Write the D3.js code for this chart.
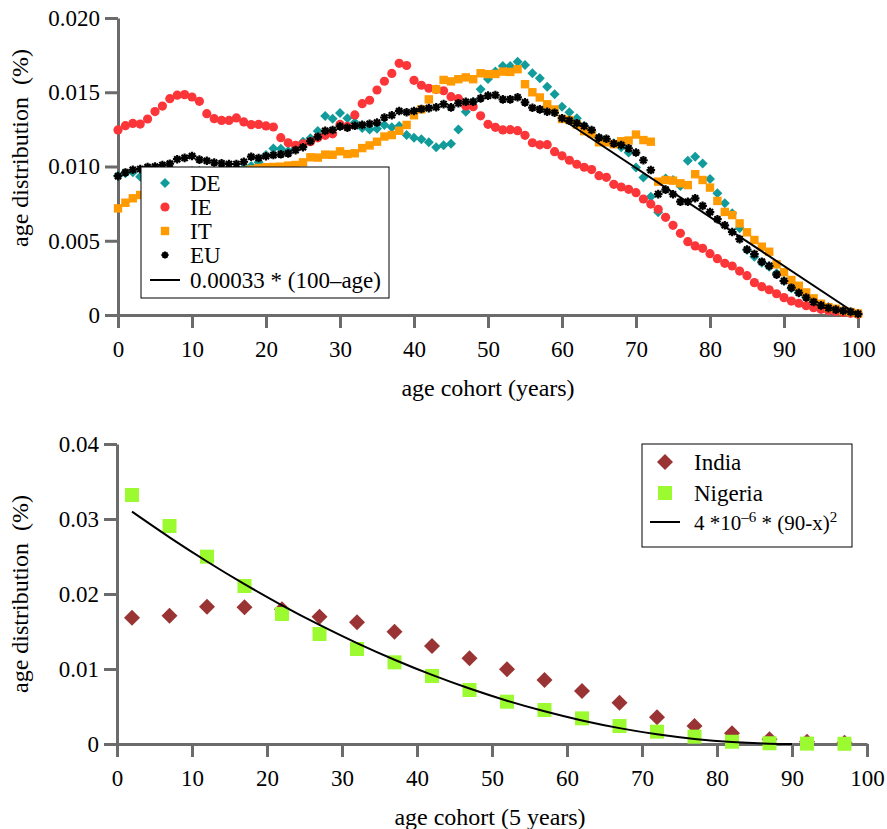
<!DOCTYPE html>
<html>
<head>
<meta charset="utf-8">
<script src="https://cdn.jsdelivr.net/npm/d3@7"></script>
<style>
body { margin: 0; background: #fff; }
svg text { font-family: "Liberation Serif", "Times New Roman", serif; fill: #000; }
</style>
</head>
<body>
<div id="chart"></div>
<script>
// ---- top panel data: age distribution by single year of age ----
var ages = d3.range(0, 101);

var deVals = [0.00938, 0.00954, 0.00962, 0.00931, 0.00930, 0.00925, 0.00930, 0.00940, 0.00950, 0.00960,
  0.00970, 0.00970, 0.00960, 0.00950, 0.00950, 0.00960, 0.00980, 0.00990, 0.01003, 0.01028,
  0.01077, 0.01122, 0.01120, 0.01105, 0.01122, 0.01167, 0.01190, 0.01239, 0.01340, 0.01322,
  0.01360, 0.01325, 0.01297, 0.01259, 0.01250, 0.01255, 0.01280, 0.01264, 0.01273, 0.01212,
  0.01194, 0.01183, 0.01163, 0.01129, 0.01143, 0.01154, 0.01250, 0.01369, 0.01436, 0.01520,
  0.01589, 0.01640, 0.01677, 0.01677, 0.01706, 0.01684, 0.01628, 0.01594, 0.01537, 0.01486,
  0.01403, 0.01365, 0.01325, 0.01273, 0.01234, 0.01194, 0.01178, 0.01156, 0.01130, 0.01095,
  0.00993, 0.00926, 0.00797, 0.00692, 0.00920, 0.00909, 0.00869, 0.01039, 0.01066, 0.01021,
  0.00916, 0.00820, 0.00752, 0.00685, 0.00584, 0.00438, 0.00393, 0.00352, 0.00325, 0.00281,
  0.00229, 0.00180, 0.00150, 0.00120, 0.00092, 0.00070, 0.00054, 0.00037, 0.00026, 0.00018,
  0.00005];

var ieVals = [0.01246, 0.01275, 0.01290, 0.01286, 0.01320, 0.01370, 0.01407, 0.01457, 0.01480, 0.01484,
  0.01468, 0.01439, 0.01356, 0.01322, 0.01310, 0.01310, 0.01327, 0.01300, 0.01282, 0.01283,
  0.01273, 0.01266, 0.01194, 0.01160, 0.01142, 0.01152, 0.01167, 0.01193, 0.01210, 0.01220,
  0.01283, 0.01270, 0.01347, 0.01423, 0.01446, 0.01515, 0.01574, 0.01627, 0.01695, 0.01680,
  0.01580, 0.01547, 0.01527, 0.01520, 0.01510, 0.01470, 0.01457, 0.01407, 0.01403, 0.01341,
  0.01284, 0.01264, 0.01246, 0.01248, 0.01241, 0.01210, 0.01160, 0.01146, 0.01147, 0.01100,
  0.01072, 0.01042, 0.01015, 0.00995, 0.00979, 0.00938, 0.00927, 0.00880, 0.00862, 0.00846,
  0.00824, 0.00781, 0.00747, 0.00712, 0.00658, 0.00604, 0.00550, 0.00494, 0.00465, 0.00449,
  0.00413, 0.00379, 0.00348, 0.00330, 0.00296, 0.00265, 0.00218, 0.00191, 0.00170, 0.00143,
  0.00117, 0.00094, 0.00079, 0.00063, 0.00049, 0.00038, 0.00030, 0.00024, 0.00017, 0.00011,
  0.00005];

var itVals = [0.00718, 0.00756, 0.00786, 0.00808, 0.00830, 0.00845, 0.00860, 0.00875, 0.00890, 0.00905,
  0.00920, 0.00930, 0.00935, 0.00940, 0.00945, 0.00950, 0.00960, 0.00970, 0.00980, 0.00990,
  0.00995, 0.00997, 0.00999, 0.01006, 0.01010, 0.01028, 0.01062, 0.01060, 0.01080, 0.01079,
  0.01102, 0.01084, 0.01089, 0.01124, 0.01142, 0.01167, 0.01202, 0.01212, 0.01241, 0.01280,
  0.01345, 0.01385, 0.01452, 0.01520, 0.01583, 0.01573, 0.01588, 0.01600, 0.01588, 0.01628,
  0.01622, 0.01623, 0.01639, 0.01637, 0.01655, 0.01554, 0.01500, 0.01465, 0.01419, 0.01384,
  0.01320, 0.01313, 0.01282, 0.01238, 0.01221, 0.01163, 0.01163, 0.01150, 0.01170, 0.01175,
  0.01215, 0.01178, 0.01167, 0.00898, 0.00909, 0.00905, 0.00887, 0.00875, 0.00948, 0.00909,
  0.00858, 0.00768, 0.00694, 0.00673, 0.00617, 0.00557, 0.00505, 0.00460, 0.00426, 0.00341,
  0.00288, 0.00236, 0.00197, 0.00152, 0.00112, 0.00076, 0.00053, 0.00042, 0.00028, 0.00020,
  0.00010];

var euVals = [0.00935, 0.00960, 0.00978, 0.00983, 0.00997, 0.01000, 0.01010, 0.01019, 0.01049, 0.01058,
  0.01071, 0.01046, 0.01039, 0.01027, 0.01021, 0.01017, 0.01017, 0.01032, 0.01066, 0.01057,
  0.01069, 0.01077, 0.01082, 0.01088, 0.01110, 0.01130, 0.01170, 0.01200, 0.01240, 0.01246,
  0.01270, 0.01261, 0.01274, 0.01280, 0.01288, 0.01296, 0.01330, 0.01345, 0.01374, 0.01365,
  0.01374, 0.01387, 0.01393, 0.01399, 0.01420, 0.01398, 0.01426, 0.01436, 0.01436, 0.01459,
  0.01477, 0.01481, 0.01452, 0.01452, 0.01466, 0.01432, 0.01396, 0.01385, 0.01369, 0.01362,
  0.01325, 0.01309, 0.01291, 0.01273, 0.01246, 0.01194, 0.01187, 0.01155, 0.01145, 0.01122,
  0.01094, 0.01042, 0.00976, 0.00814, 0.00844, 0.00813, 0.00763, 0.00763, 0.00786, 0.00735,
  0.00693, 0.00645, 0.00604, 0.00559, 0.00511, 0.00441, 0.00410, 0.00359, 0.00331, 0.00272,
  0.00229, 0.00184, 0.00150, 0.00118, 0.00088, 0.00065, 0.00048, 0.00036, 0.00028, 0.00021,
  0.00008];

// fit line 0.00033 * (100 - age), drawn from age 60 to 100
var euFitAges = [60, 100];
var euFitVals = [0.0132, 0];

var topXTicks = [0, 10, 20, 30, 40, 50, 60, 70, 80, 90, 100];
var topYTicks = [0, 0.005, 0.010, 0.015, 0.020];

// ---- bottom panel data: 5-year cohorts ----
var cohorts = [2, 7, 12, 17, 22, 27, 32, 37, 42, 47, 52, 57, 62, 67, 72, 77, 82, 87, 92, 97];
var indiaVals = [0.01684, 0.0171, 0.0183, 0.01822, 0.01796, 0.01698, 0.01622, 0.01498, 0.01307, 0.01142,
  0.00996, 0.00853, 0.00707, 0.00551, 0.00356, 0.0024, 0.00142, 0.00062, 0.0003, 0.00018];
var nigeriaVals = [0.0332, 0.02907, 0.02498, 0.02107, 0.01733, 0.01467, 0.01267, 0.01089, 0.00907, 0.0072,
  0.00564, 0.00453, 0.00342, 0.0024, 0.00164, 0.00098, 0.0003, 0.0001, 0.00005, 0.00003];

// fit curve 4e-6 * (90 - x)^2
var fitX = [2, 7, 12, 17, 22, 27, 32, 37, 42, 47, 52, 57, 62, 67, 72, 77, 82, 87, 90];
var fitVals = [0.030976, 0.027556, 0.024336, 0.021316, 0.018496, 0.015876, 0.013456, 0.011236, 0.009216,
  0.007396, 0.005776, 0.004356, 0.003136, 0.002116, 0.001296, 0.000676, 0.000256, 0.000036, 0];

var botXTicks = [0, 10, 20, 30, 40, 50, 60, 70, 80, 90, 100];
var botYTicks = [0, 0.01, 0.02, 0.03, 0.04];

// colours
var cDE = "#129b9b", cIE = "#fb3538", cIT = "#ff9a00", cEU = "#000";
var cIndia = "#9a3434", cNigeria = "#9cfb30";
var axisGrey = "#6b6b6b";
var serif = "'Liberation Serif', 'Times New Roman', serif";

// custom marker shapes
var diamond = { draw: function(ctx, r) { ctx.moveTo(0, -r); ctx.lineTo(r, 0); ctx.lineTo(0, r); ctx.lineTo(-r, 0); ctx.closePath(); } };
var square = { draw: function(ctx, r) { ctx.rect(-r, -r, 2 * r, 2 * r); } };
var circle = { draw: function(ctx, r) { ctx.moveTo(r, 0); ctx.arc(0, 0, r, 0, 2 * Math.PI); } };
var star = { draw: function(ctx, r) {
  for (var i = 0; i < 4; i++) {
    var a = i * Math.PI / 4;
    ctx.moveTo(-r * Math.cos(a), -r * Math.sin(a));
    ctx.lineTo(r * Math.cos(a), r * Math.sin(a));
  }
} };

var svg = d3.select("#chart")
  .append("svg")
  .attr("width", 887)
  .attr("height", 829)
  .style("font-family", serif);

function styleAxis(g) {
  g.attr("font-family", null).attr("font-size", null);
  g.select(".domain").attr("stroke", axisGrey).attr("stroke-width", 3);
  g.selectAll(".tick line").attr("stroke", axisGrey).attr("stroke-width", 3);
  g.selectAll(".tick text")
    .style("font-family", serif)
    .style("font-size", "23px")
    .attr("fill", "#000");
}

function drawAxes(x, y, xTicks, yTicks, yFmt) {
  var xAxis = d3.axisBottom(x).tickValues(xTicks).tickSize(13).tickSizeOuter(0).tickPadding(13);
  var yAxis = d3.axisLeft(y).tickValues(yTicks).tickSize(13).tickSizeOuter(0).tickPadding(5)
    .tickFormat(d => d === 0 ? "0" : yFmt(d));
  svg.append("g")
    .attr("transform", `translate(0, ${y.range()[0]})`)
    .call(xAxis)
    .call(styleAxis);
  svg.append("g")
    .attr("transform", `translate(${x.range()[0]}, 0)`)
    .call(yAxis)
    .call(styleAxis);
}

function drawPoints(x, y, xs, vals, shape, r, color, isStroke) {
  var sym = d3.symbol().type(shape).size(r);
  svg.append("g")
    .selectAll("path")
    .data(vals)
    .enter()
    .append("path")
    .attr("transform", (d, i) => `translate(${x(xs[i])}, ${y(d)})`)
    .attr("d", sym)
    .attr("fill", isStroke ? "none" : color)
    .attr("stroke", isStroke ? color : "none")
    .attr("stroke-width", isStroke ? 2.2 : 0);
}

// ================= top chart =================
var xTop = d3.scaleLinear().domain([0, 100]).range([118, 858]);
var yTop = d3.scaleLinear().domain([0, 0.02]).range([315, 18]);

drawAxes(xTop, yTop, topXTicks, topYTicks, d3.format(".3f"));

drawPoints(xTop, yTop, ages, deVals, diamond, 5, cDE);
drawPoints(xTop, yTop, ages, ieVals, circle, 4.6, cIE);
drawPoints(xTop, yTop, ages, itVals, square, 4.2, cIT);
drawPoints(xTop, yTop, ages, euVals, star, 4.3, cEU, true);

svg.append("path")
  .datum(euFitAges)
  .attr("fill", "none")
  .attr("stroke", "#000")
  .attr("stroke-width", 2)
  .attr("d", d3.line().x(d => xTop(d)).y((d, i) => yTop(euFitVals[i])));

// legend (opaque box covers points)
var legTop = svg.append("g");
legTop.append("rect")
  .attr("x", 141).attr("y", 167).attr("width", 248).attr("height", 131)
  .attr("fill", "#fff").attr("stroke", "#000").attr("stroke-width", 1);
var topLegend = [
  { label: "DE", shape: diamond, r: 5, color: cDE, y: 183 },
  { label: "IE", shape: circle, r: 4.6, color: cIE, y: 207 },
  { label: "IT", shape: square, r: 4.2, color: cIT, y: 231 },
  { label: "EU", shape: star, r: 3.6, color: cEU, y: 255, stroke: true }
];
topLegend.forEach(function(e) {
  legTop.append("path")
    .attr("transform", `translate(165, ${e.y})`)
    .attr("d", d3.symbol().type(e.shape).size(e.r))
    .attr("fill", e.stroke ? "none" : e.color)
    .attr("stroke", e.stroke ? e.color : "none")
    .attr("stroke-width", e.stroke ? 2 : 0);
  legTop.append("text")
    .attr("x", 190).attr("y", e.y + 8)
    .attr("font-size", 23)
    .text(e.label);
});
legTop.append("line")
  .attr("x1", 150).attr("x2", 180).attr("y1", 280).attr("y2", 280)
  .attr("stroke", "#000").attr("stroke-width", 2);
legTop.append("text")
  .attr("x", 190).attr("y", 288)
  .attr("font-size", 23)
  .text("0.00033 * (100\u2013age)");

// axis titles
svg.append("text")
  .attr("x", 488).attr("y", 396)
  .attr("text-anchor", "middle")
  .attr("font-size", 24)
  .text("age cohort (years)");
svg.append("text")
  .attr("transform", "translate(28, 148) rotate(-90)")
  .attr("text-anchor", "middle")
  .attr("font-size", 24)
  .attr("xml:space", "preserve")
  .text("age distribution  (%)");

// ================= bottom chart =================
var xBot = d3.scaleLinear().domain([0, 100]).range([117, 867]);
var yBot = d3.scaleLinear().domain([0, 0.04]).range([744, 444]);

drawAxes(xBot, yBot, botXTicks, botYTicks, d3.format(".2f"));

drawPoints(xBot, yBot, cohorts, indiaVals, diamond, 8, cIndia);
drawPoints(xBot, yBot, cohorts, nigeriaVals, square, 7, cNigeria);

svg.append("path")
  .datum(fitX)
  .attr("fill", "none")
  .attr("stroke", "#000")
  .attr("stroke-width", 2)
  .attr("d", d3.line().curve(d3.curveCatmullRom).x(d => xBot(d)).y((d, i) => yBot(fitVals[i])));

var legBot = svg.append("g");
legBot.append("rect")
  .attr("x", 642).attr("y", 444).attr("width", 210).attr("height", 103)
  .attr("fill", "#fff").attr("stroke", "#000").attr("stroke-width", 1);
legBot.append("path")
  .attr("transform", "translate(665, 462)")
  .attr("d", d3.symbol().type(diamond).size(8))
  .attr("fill", cIndia);
legBot.append("text").attr("x", 694).attr("y", 470).attr("font-size", 23).text("India");
legBot.append("path")
  .attr("transform", "translate(665, 493)")
  .attr("d", d3.symbol().type(square).size(7))
  .attr("fill", cNigeria);
legBot.append("text").attr("x", 694).attr("y", 501).attr("font-size", 23).text("Nigeria");
legBot.append("line")
  .attr("x1", 650).attr("x2", 680).attr("y1", 522).attr("y2", 522)
  .attr("stroke", "#000").attr("stroke-width", 2);
var fitLabel = legBot.append("text").attr("x", 694).attr("y", 530).attr("font-size", 21);
fitLabel.append("tspan").text("4 *10");
fitLabel.append("tspan").attr("font-size", 15).attr("dy", -8).text("\u20136");
fitLabel.append("tspan").attr("dy", 8).text(" * (90-x)");
fitLabel.append("tspan").attr("font-size", 15).attr("dy", -8).text("2");

svg.append("text")
  .attr("x", 490).attr("y", 825)
  .attr("text-anchor", "middle")
  .attr("font-size", 24)
  .text("age cohort (5 years)");
svg.append("text")
  .attr("transform", "translate(28, 594) rotate(-90)")
  .attr("text-anchor", "middle")
  .attr("font-size", 24)
  .attr("xml:space", "preserve")
  .text("age distribution  (%)");
</script>
</body>
</html>
